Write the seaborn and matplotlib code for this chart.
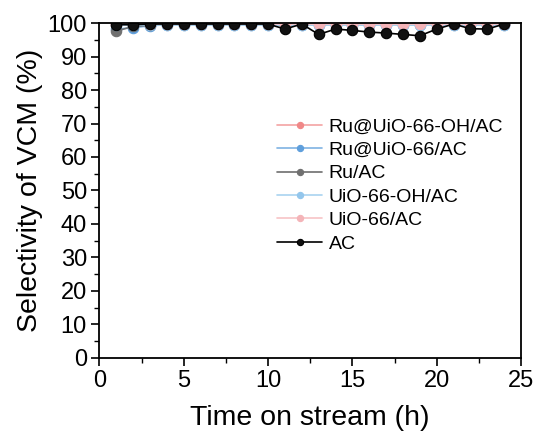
import matplotlib
matplotlib.use("Agg")
import matplotlib.pyplot as plt
from matplotlib.ticker import MultipleLocator
import seaborn as sns
import pandas as pd

hours = list(range(1, 25))

ru_uio66oh_ac = [99.8] * 24
ru_uio66_ac = [98.2, 98.6, 99.2] + [99.5] * 21
ru_ac = [97.6, 99.0, 99.3] + [99.6] * 21
uio66oh_ac = [99.3] * 24
uio66_ac = [99.6] * 24
ac = [99.5, 99.5, 99.7, 99.7, 99.7, 99.7, 99.7, 99.7, 99.7, 99.7,
      98.2, 99.7, 96.6, 98.2, 97.8, 97.3, 97.0, 96.6, 96.2, 98.2,
      99.7, 98.3, 98.2, 99.7]

series_names = ["Ru@UiO-66-OH/AC", "Ru@UiO-66/AC", "Ru/AC",
                "UiO-66-OH/AC", "UiO-66/AC", "AC"]
series_values = [ru_uio66oh_ac, ru_uio66_ac, ru_ac, uio66oh_ac, uio66_ac, ac]
line_colors = ["#f4a3a3", "#7fb3e3", "#6e6e6e", "#a9d3f0", "#f7c3c6", "#000000"]
marker_colors = ["#f08888", "#5f9fdc", "#707070", "#93c6ec", "#f4b4b8", "#111111"]

sns.set_style("ticks")
plt.rcParams["font.family"] = ["Liberation Sans", "DejaVu Sans"]
plt.rcParams["text.color"] = "black"
plt.rcParams["axes.labelcolor"] = "black"
plt.rcParams["xtick.color"] = "black"
plt.rcParams["ytick.color"] = "black"

fig = plt.figure(figsize=(5.39, 4.43), dpi=100)
ax = fig.add_axes([0.1846, 0.192, 0.782, 0.756])

for name, vals, lc, mc in zip(series_names, series_values, line_colors, marker_colors):
    df = pd.DataFrame({"Time": hours, "Selectivity": vals})
    sns.lineplot(data=df, x="Time", y="Selectivity", ax=ax, color=lc,
                 marker="o", markersize=7.5, markerfacecolor=mc,
                 markeredgecolor=mc if name != "AC" else "#000000",
                 markeredgewidth=0.8, linewidth=1.2, label=name)

ax.set_xlim(0, 25)
ax.set_ylim(0, 100)
ax.xaxis.set_major_locator(MultipleLocator(5))
ax.xaxis.set_minor_locator(MultipleLocator(2.5))
ax.yaxis.set_major_locator(MultipleLocator(10))
ax.yaxis.set_minor_locator(MultipleLocator(5))
ax.tick_params(which="major", direction="out", length=6, width=1.2,
               labelsize=17, colors="black", pad=3)
ax.tick_params(which="minor", direction="out", length=3.5, width=1.0)
for sp in ax.spines.values():
    sp.set_visible(True)
    sp.set_linewidth(1.3)
    sp.set_color("black")

ax.set_xlabel("Time on stream (h)", fontsize=20.5, labelpad=9)
ax.set_ylabel("Selectivity of VCM (%)", fontsize=20.5, labelpad=3)

leg = ax.legend(loc="upper left", bbox_to_anchor=(0.403, 0.74), frameon=False,
                fontsize=14, markerscale=0.6, handlelength=2.3,
                handletextpad=0.35, labelspacing=0.3, borderaxespad=0)

fig.savefig("out.png", dpi=100)
